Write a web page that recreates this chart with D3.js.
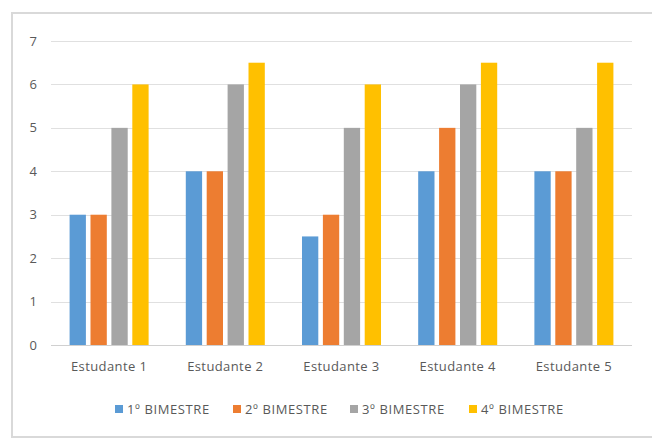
<!DOCTYPE html>
<html>
<head>
<meta charset="utf-8">
<script src="https://cdn.jsdelivr.net/npm/d3@7"></script>
<style>
  body { margin: 0; background: #fff; }
  text { font-family: "Open Sans", sans-serif; fill: #595959; }
</style>
</head>
<body>
<div id="chart"></div>
<script>
// chart data
var students = ["Estudante 1", "Estudante 2", "Estudante 3", "Estudante 4", "Estudante 5"];
var series = ["1º BIMESTRE", "2º BIMESTRE", "3º BIMESTRE", "4º BIMESTRE"];
var bim1 = [3, 4, 2.5, 4, 4];
var bim2 = [3, 4, 3, 5, 4];
var bim3 = [5, 6, 5, 6, 5];
var bim4 = [6, 6.5, 6, 6.5, 6.5];
var yTicks = [0, 1, 2, 3, 4, 5, 6, 7];
var colors = ["#5b9bd5", "#ed7d31", "#a5a5a5", "#ffc000"];

var width = 652, height = 438;
var values = [bim1, bim2, bim3, bim4];

var svg = d3.select("#chart").append("svg")
  .attr("width", width)
  .attr("height", height);

// outer frame (only top and left show in the crop)
svg.append("rect")
  .attr("x", 12).attr("y", 13)
  .attr("width", 660).attr("height", 424)
  .attr("fill", "none")
  .attr("stroke", "#d9d9d9")
  .attr("stroke-width", 2);

var x0 = d3.scaleBand().domain(students).range([51, 632])
  .paddingInner(0.32).paddingOuter(0.16);
var x1 = d3.scaleBand().domain(series).range([0, x0.bandwidth()])
  .paddingInner(0.22);
var y = d3.scaleLinear().domain([0, 7]).range([345, 41]);

// gridlines
svg.append("g").selectAll("line")
  .data(yTicks)
  .join("line")
  .attr("x1", 51).attr("x2", 632)
  .attr("y1", function(d){ return Math.round(y(d)) + 0.5; })
  .attr("y2", function(d){ return Math.round(y(d)) + 0.5; })
  .attr("stroke", function(d){ return d === 0 ? "#d0d0d0" : "#e0e0e0"; })
  .attr("stroke-width", 1);

// y labels
svg.append("g").selectAll("text")
  .data(yTicks)
  .join("text")
  .attr("x", 37)
  .attr("y", function(d){ return y(d); })
  .attr("dy", "0.35em")
  .attr("text-anchor", "end")
  .attr("font-size", "13px")
  .text(function(d){ return d; });

// bars
var groups = svg.append("g").selectAll("g")
  .data(students)
  .join("g")
  .attr("transform", function(d){ return "translate(" + x0(d) + ",0)"; });

groups.selectAll("rect")
  .data(function(d, i){
    return series.map(function(s, j){ return {s: s, v: values[j][i], c: colors[j]}; });
  })
  .join("rect")
  .attr("x", function(d){ return x1(d.s); })
  .attr("width", x1.bandwidth())
  .attr("y", function(d){ return y(d.v); })
  .attr("height", function(d){ return y(0) - y(d.v); })
  .attr("fill", function(d){ return d.c; });

// category labels
svg.append("g").selectAll("text")
  .data(students)
  .join("text")
  .attr("x", function(d){ return x0(d) + x0.bandwidth() / 2; })
  .attr("y", 366)
  .attr("dy", "0.35em")
  .attr("text-anchor", "middle")
  .attr("font-size", "13px")
  .attr("letter-spacing", "0.4px")
  .text(function(d){ return d; });

// legend
var legendX = [115, 233, 350, 469];
var legend = svg.append("g").selectAll("g")
  .data(series)
  .join("g")
  .attr("transform", function(d, i){ return "translate(" + legendX[i] + ",409)"; });

legend.append("rect")
  .attr("x", 0).attr("y", -4)
  .attr("width", 8).attr("height", 8)
  .attr("fill", function(d, i){ return colors[i]; });

legend.append("text")
  .attr("x", 12)
  .attr("dy", "0.35em")
  .attr("font-size", "13px")
  .attr("letter-spacing", "0.6px")
  .text(function(d){ return d; });
</script>
</body>
</html>
